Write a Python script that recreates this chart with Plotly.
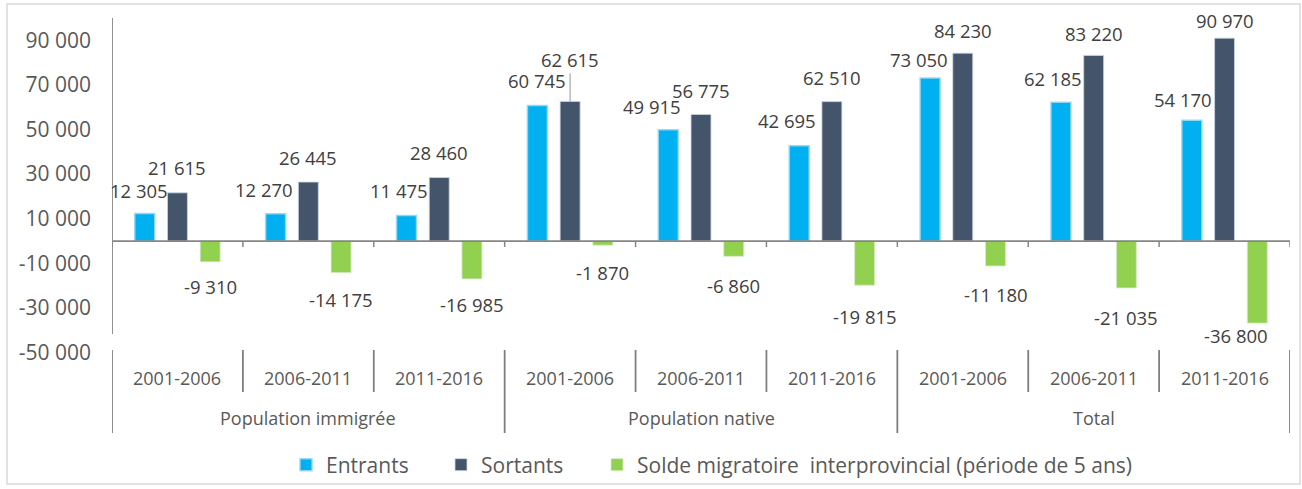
import plotly.graph_objects as go

# ---------------- data ----------------
periods = ["2001-2006", "2006-2011", "2011-2016"] * 3
groups = ["Population immigrée", "Population native", "Total"]
entrants = [12305, 12270, 11475, 60745, 49915, 42695, 73050, 62185, 54170]
sortants = [21615, 26445, 28460, 62615, 56775, 62510, 84230, 83220, 90970]
solde = [-9310, -14175, -16985, -1870, -6860, -19815, -11180, -21035, -36800]
series_names = ["Entrants", "Sortants", "Solde migratoire  interprovincial (période de 5 ans)"]
y_ticks = [-50000, -30000, -10000, 10000, 30000, 50000, 70000, 90000]

# ---------------- styling ----------------
FONT = "Open Sans"
TXT = "#595959"
LBL = "#404040"
AX = "#868686"
colors = ["#00B0F0", "#44546A", "#92D050"]
outlines = ["rgba(150,215,245,0.9)", "rgba(205,215,230,0.8)", "rgba(215,235,200,0.8)"]

# label nudges (pixels): horizontal shift and distance from bar end
ent_dx = [-6, -12, -8, 0, -16, -12, -11, -8, -9]
ent_dy = [23, 24, 25, 25, 23, 25, 19, 24, 21]
sor_dx = [0, 0, 0, 0, 0, 0, 0, 0, 0]
sor_dy = [25, 25, 25, 42, 24, 24, 23, 22, 18]
sol_dx = [0, 0, 0, 0, 0, 0, 0, 0, -21]
sol_dy = [25, 27, 26, 27, 29, 31, 29, 30, 12]

W, H = 1302, 489
ML, MR, MT, MB = 112, 12, 18, 134
PW, PH = W - ML - MR, H - MT - MB


def fmt(v):
    return f"{v:,}".replace(",", " ")


def px_x(p):
    return (p - ML) / PW


def px_y(p):
    return (H - MB - p) / PH


n = len(periods)
xs = list(range(n))
fig = go.Figure()
legends = ["legend", "legend2", "legend3"]
for k, (name, vals) in enumerate(zip(series_names, [entrants, sortants, solde])):
    fig.add_trace(go.Bar(
        x=xs, y=vals, name=name,
        marker=dict(color=colors[k], line=dict(color=outlines[k], width=1.5 if k == 0 else 1)),
        legend=legends[k],
        hoverinfo="skip",
    ))

offs = [-0.25, 0.0, 0.25]
annotations = []
for k, (vals, dxs, dys) in enumerate([(entrants, ent_dx, ent_dy), (sortants, sor_dx, sor_dy), (solde, sol_dx, sol_dy)]):
    for i, v in enumerate(vals):
        sgn = 1 if v >= 0 else -1
        leader = dys[i] > 35
        if leader:
            annotations.append(dict(
                x=i + offs[k], y=v, xref="x", yref="y", text=fmt(v),
                showarrow=True, ax=dxs[i], ay=-sgn * dys[i], arrowhead=0, arrowwidth=1.2,
                arrowcolor="#a6a6a6", standoff=0,
                font=dict(family=FONT, size=18.5, color=LBL),
            ))
        else:
            annotations.append(dict(
                x=i + offs[k], y=v, xref="x", yref="y", text=fmt(v), showarrow=False,
                xshift=dxs[i], yshift=sgn * dys[i],
                font=dict(family=FONT, size=18.5, color=LBL),
            ))

# category labels
for i, p in enumerate(periods):
    annotations.append(dict(x=i, y=px_y(378), xref="x", yref="paper", text=p, showarrow=False,
                            yanchor="middle", font=dict(family=FONT, size=18, color=TXT)))
per_group = n // len(groups)
for g, name in enumerate(groups):
    annotations.append(dict(x=g * per_group + (per_group - 1) / 2, y=px_y(418), xref="x", yref="paper",
                            text=name, showarrow=False, yanchor="middle",
                            font=dict(family=FONT, size=18, color=TXT)))

shapes = []
# zero line
shapes.append(dict(type="line", xref="x", yref="y", x0=-0.5, x1=n - 0.5, y0=0, y1=0,
                   line=dict(color=AX, width=1.8)))
# small tick marks at category boundaries
for b in range(n + 1):
    shapes.append(dict(type="line", xref="x", yref="y", ysizemode="pixel", yanchor=0,
                       x0=b - 0.5, x1=b - 0.5, y0=0, y1=-6, line=dict(color=AX, width=1.5)))
# value axis line
shapes.append(dict(type="line", xref="x", yref="paper", x0=-0.5, x1=-0.5, y0=1.0, y1=px_y(334),
                   line=dict(color=AX, width=1.8)))
# category separators
for b in range(n + 1):
    major = b % per_group == 0
    shapes.append(dict(type="line", xref="x", yref="paper", x0=b - 0.5, x1=b - 0.5,
                       y0=px_y(350), y1=px_y(433) if major else px_y(392),
                       line=dict(color="#7f7f7f", width=1.8)))
# outer frame
shapes.append(dict(type="rect", xref="paper", yref="paper",
                   x0=px_x(7), x1=px_x(1300), y0=px_y(484), y1=px_y(4),
                   line=dict(color="#d9d9d9", width=1.5)))

leg_common = dict(orientation="h", yanchor="middle", y=px_y(465), xanchor="left",
                  font=dict(family=FONT, size=21, color=TXT), bgcolor="rgba(0,0,0,0)",
                  itemwidth=30, tracegroupgap=0)

fig.update_layout(
    width=W, height=H,
    margin=dict(l=ML, r=MR, t=MT, b=MB, autoexpand=False),
    paper_bgcolor="white", plot_bgcolor="white",
    barmode="group", bargap=0.25, bargroupgap=0.39,
    xaxis=dict(range=[-0.5, n - 0.5], showticklabels=False, showgrid=False, zeroline=False,
               showline=False, ticks="", automargin=False),
    yaxis=dict(range=[-51100, 100000], tickvals=y_ticks, ticktext=[fmt(v) for v in y_ticks],
               showgrid=False, zeroline=False, showline=False, ticks="",
               ticklabelstandoff=20, automargin=False,
               tickfont=dict(family=FONT, size=21, color=TXT)),
    annotations=annotations,
    shapes=shapes,
    legend=dict(x=px_x(286), **leg_common),
    legend2=dict(x=px_x(441), **leg_common),
    legend3=dict(x=px_x(597), **leg_common),
    showlegend=True,
)

fig.write_html("out.html", config={"displayModeBar": False},
               post_script="document.body.style.margin='0';document.body.style.overflow='hidden';")
